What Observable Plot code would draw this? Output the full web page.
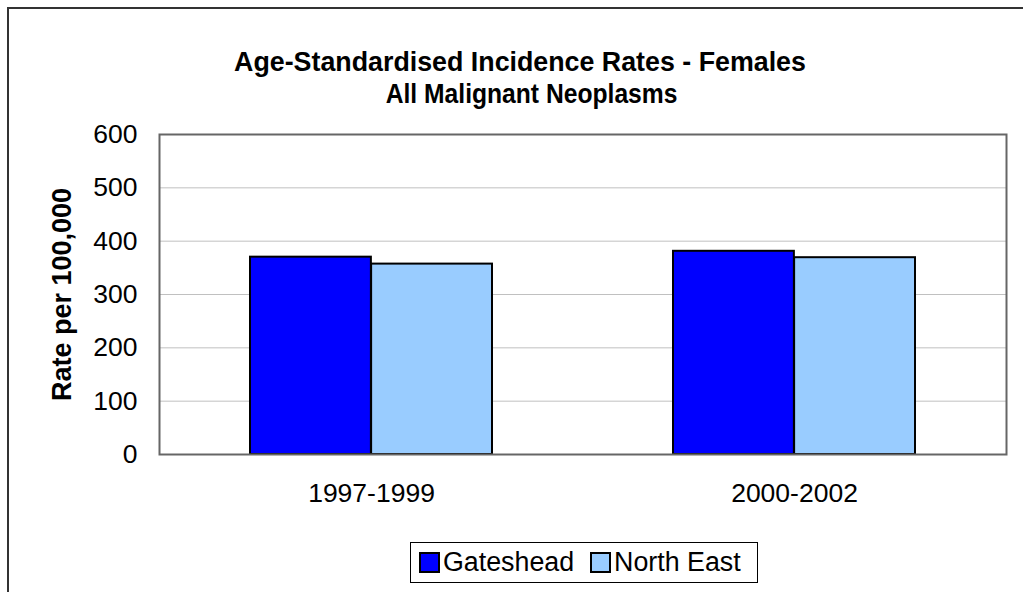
<!DOCTYPE html>
<html>
<head>
<meta charset="utf-8">
<script src="https://cdn.jsdelivr.net/npm/d3@7"></script>
<script src="https://cdn.jsdelivr.net/npm/@observablehq/plot@0.6"></script>
<style>
  html, body { margin: 0; padding: 0; background: #fff; }
  #wrap { position: relative; width: 1023px; height: 592px; overflow: hidden; font-family: "Liberation Sans", Arial, sans-serif; color: #000; }
  #border { position: absolute; left: 7px; top: 7px; width: 1100px; height: 700px; border-left: 2px solid #333; border-top: 2px solid #333; }
  #title { position: absolute; left: 0; width: 1052px; top: 46px; text-align: center; font-weight: bold; line-height: 32px; font-size: 26.8px; }
  #title .l0 { display: inline-block; position: relative; left: -6px; }
  #title .l1 { display: inline-block; position: relative; left: 6px; transform: scaleX(0.92); }
  #chart { position: absolute; left: 0; top: 0; }
  #legend { position: absolute; left: 410px; top: 542px; width: 346px; height: 39px; border: 1px solid #000; background: #fff; display: flex; align-items: center; font-size: 26.8px; white-space: nowrap; }
  .sw { display: inline-block; width: 17px; height: 17px; border: 2px solid #000; margin-right: 3px; }
  .item { display: inline-flex; align-items: center; }
</style>
</head>
<body>
<div id="wrap">
  <div id="border"></div>
  <div id="chart"></div>
  <div id="title"></div>
  <div id="legend"></div>
</div>
<script>
const titleLines = ["Age-Standardised Incidence Rates - Females", "All Malignant Neoplasms"];
const periods = ["1997-1999", "2000-2002"];
const series = ["Gateshead", "North East"];
const gateshead = [370, 381];
const northEast = [357, 369];
const seriesColors = ["#0000ff", "#99ccff"];
const yTicks = [0, 100, 200, 300, 400, 500, 600];
const yLabel = "Rate per 100,000";

const rows = [];
periods.forEach((p, i) => {
  rows.push({period: p, series: series[0], value: gateshead[i]});
  rows.push({period: p, series: series[1], value: northEast[i]});
});

const W = 1023, H = 592;
const mL = 159, mR = 17, mT = 134, mB = 138;
const padIn = 0.428, padOut = 0.214;
const plotW = W - mL - mR;
const step = plotW / (periods.length - padIn + 2 * padOut);
const bw = step * (1 - padIn);
const half = bw / 2;

const chart = Plot.plot({
  width: W,
  height: H,
  marginLeft: mL,
  marginRight: mR,
  marginTop: mT,
  marginBottom: mB,
  style: {fontSize: "26.5px", fontFamily: "'Liberation Sans', Arial, sans-serif", color: "#000", background: "transparent"},
  x: {domain: periods, paddingInner: padIn, paddingOuter: padOut, align: 0.5, tickSize: 0, tickPadding: 29, label: null},
  y: {domain: [0, 600], ticks: yTicks, tickSize: 0, tickPadding: 22, label: null, tickFormat: d => String(d)},
  color: {domain: series, range: seriesColors},
  marks: [
    Plot.ruleY(yTicks.filter(d => d > 0 && d < 600), {stroke: "#c0c0c0", strokeWidth: 1}),
    Plot.barY(rows.filter(d => d.series === series[0]), {x: "period", y: "value", fill: "series", stroke: "#000", strokeWidth: 2, insetRight: half}),
    Plot.barY(rows.filter(d => d.series === series[1]), {x: "period", y: "value", fill: "series", stroke: "#000", strokeWidth: 2, insetLeft: half}),
    Plot.frame({stroke: "#666", strokeWidth: 2}),
    Plot.text([yLabel], {frameAnchor: "left", rotate: -90, dx: -97, fontWeight: "bold", fontSize: 27, fill: "#000", textAnchor: "middle", lineAnchor: "middle"})
  ]
});
document.getElementById("chart").appendChild(chart);

document.getElementById("title").innerHTML = titleLines.map((t, i) => `<div><span class="l${i}">${t}</span></div>`).join("");

const legend = document.getElementById("legend");
series.forEach((s, i) => {
  const item = document.createElement("span");
  item.className = "item";
  item.style.marginLeft = i === 0 ? "8px" : "16px";
  const sw = document.createElement("span");
  sw.className = "sw";
  sw.style.background = seriesColors[i];
  item.appendChild(sw);
  item.appendChild(document.createTextNode(s));
  legend.appendChild(item);
});
</script>
</body>
</html>
